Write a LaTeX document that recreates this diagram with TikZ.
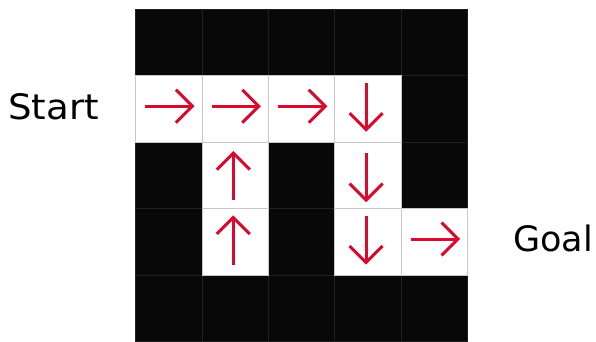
\documentclass[tikz,border=0pt]{standalone}
\usepackage{fontspec}
\setmainfont{DejaVu Sans}
\usetikzlibrary{calc}
\definecolor{arrowred}{RGB}{218,10,46}
\definecolor{cellblack}{RGB}{8,8,8}
\definecolor{blackedge}{RGB}{32,32,32}
\definecolor{whiteedge}{RGB}{200,200,200}
\tikzset{
  cellbase/.style={rectangle,minimum size=66.4pt,inner sep=0pt,outer sep=0pt,line width=1pt},
  wallcell/.style={cellbase,fill=cellblack,draw=blackedge},
  opencell/.style={cellbase,fill=white,draw=whiteedge},
  arrowline/.style={draw=arrowred,line width=3pt,line cap=butt,line join=miter},
  label/.style={font=\fontsize{35}{40}\selectfont,anchor=base west,inner sep=0pt},
  arr/.pic={
    \draw[arrowline] (-23.5,0) -- (23.5,0);
    \draw[arrowline] (7,16.5) -- (23.5,0) -- (7,-16.5);
  }
}
\begin{document}
\begin{tikzpicture}[x=1pt,y=-1pt]
\useasboundingbox (0,0) rectangle (596,342);
% cells
\foreach \r in {0,...,4}{
  \foreach \c in {0,...,4}{
    \node[wallcell] (c\r\c) at ({135.7+66.4*\c+33.2},{9.6+66.4*\r+33.2}) {};
  }
}
\foreach \r/\c in {1/0,1/1,1/2,1/3,2/1,2/3,3/1,3/3,3/4}{
  \node[opencell] (w\r\c) at (c\r\c) {};
}
% arrows
\pic at ($(w10)+(0,-3)$) {arr};
\pic at ($(w11)+(0,-3)$) {arr};
\pic at ($(w12)+(0,-3)$) {arr};
\pic[rotate=-90] at ($(w13)+(-2,-3)$) {arr};
\pic[rotate=90] at ($(w21)+(-2,1)$) {arr};
\pic[rotate=-90] at ($(w23)+(-2,1)$) {arr};
\pic[rotate=90] at ($(w31)+(-2,-1)$) {arr};
\pic[rotate=-90] at ($(w33)+(-2,-3)$) {arr};
\pic at ($(w34)+(0,-3)$) {arr};
% labels
\node[label] (start) at (8,120) {\scalebox{1.06}[1]{Start}};
\node[label] (goal) at (513,251.7) {Goal};
\end{tikzpicture}
\end{document}
